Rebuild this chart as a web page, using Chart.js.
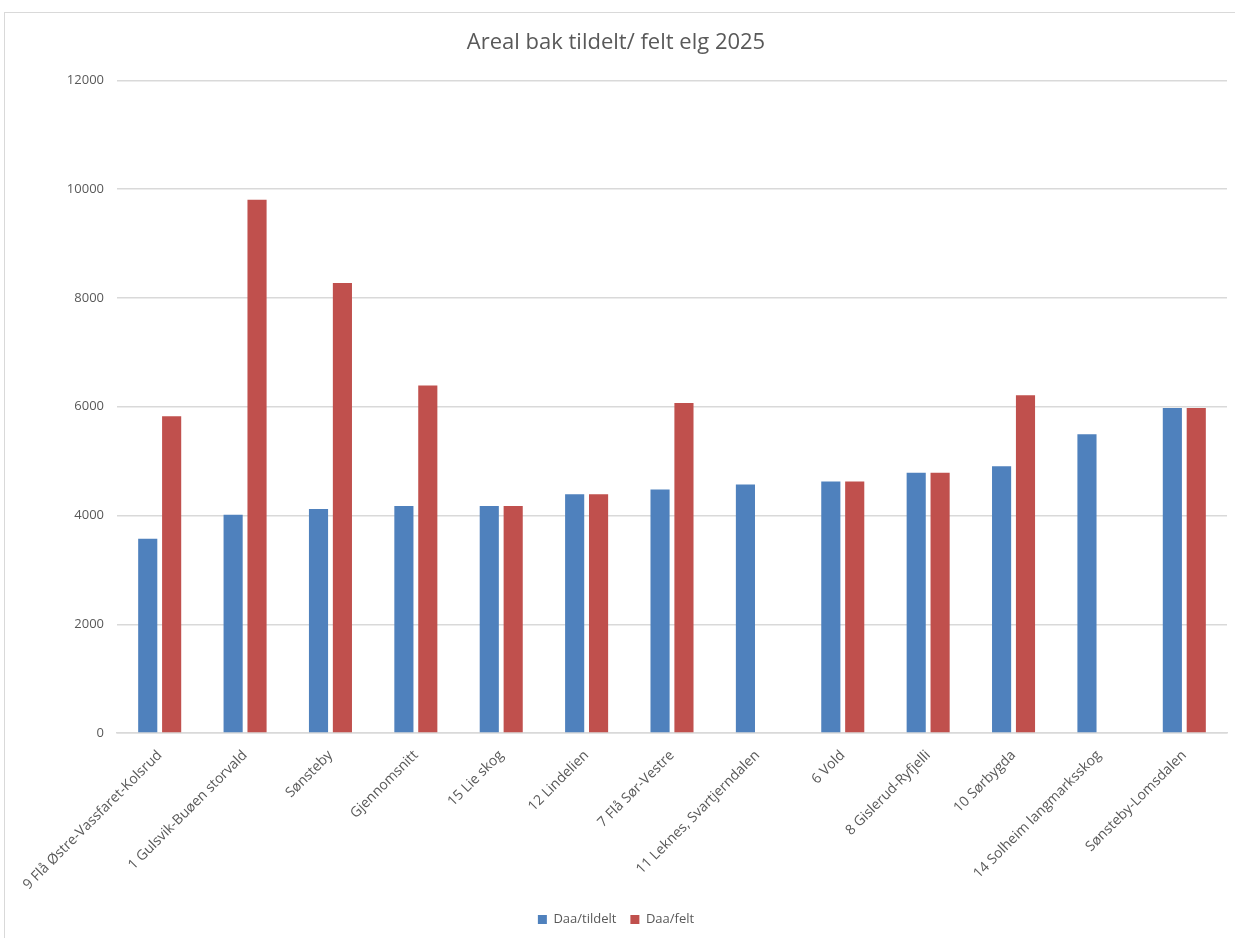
<!DOCTYPE html>
<html>
<head>
<meta charset="utf-8">
<script src="https://cdn.jsdelivr.net/npm/chart.js@4.4.1/dist/chart.umd.min.js"></script>
<style>
  html, body { margin: 0; padding: 0; background: #fff; }
  body { width: 1235px; height: 938px; overflow: hidden; position: relative; }
  #frame { position: absolute; left: 4px; top: 12px; width: 1240px; height: 940px; border-left: 1px solid #d9d9d9; border-top: 1px solid #d9d9d9; box-sizing: border-box; }
  #wrap { position: absolute; left: 5px; top: 13px; width: 1230px; height: 925px; }
</style>
</head>
<body>
<div id="frame"></div>
<div id="wrap"><canvas id="chart"></canvas></div>
<script>
'use strict';

const CATEGORIES = [
    '9 Flå Østre-Vassfaret-Kolsrud', '1 Gulsvik-Buøen storvald', 'Sønsteby', 'Gjennomsnitt',
    '15 Lie skog', '12 Lindelien', '7 Flå Sør-Vestre', '11 Leknes, Svartjerndalen',
    '6 Vold', '8 Gislerud-Ryfjelli', '10 Sørbygda', '14 Solheim langmarksskog', 'Sønsteby-Lomsdalen'
];
const DAA_TILDELT = [3575, 4015, 4120, 4175, 4175, 4390, 4477, 4569, 4624, 4785, 4907, 5492, 5978];
const DAA_FELT = [5824, 9806, 8274, 6391, 4175, 4390, 6070, null, 4624, 4785, 6212, null, 5978];
const Y_TICKS = [0, 2000, 4000, 6000, 8000, 10000, 12000];

const TEXT = '#595959';
const GRID = '#d9d9d9';
const FONT = "'Open Sans', sans-serif";

new Chart(document.getElementById('chart'), {
    type: 'bar',
    data: {
        labels: CATEGORIES,
        datasets: [
            { label: 'Daa/tildelt', data: DAA_TILDELT, backgroundColor: '#4F81BD', borderWidth: 0 },
            { label: 'Daa/felt', data: DAA_FELT, backgroundColor: '#C0504D', borderWidth: 0 }
        ]
    },
    options: {
        responsive: true, maintainAspectRatio: false, animation: false,
        datasets: { bar: { categoryPercentage: 0.56, barPercentage: 0.8 } },
        layout: { padding: { left: 0, right: 8, top: 17, bottom: 2 } },
        plugins: {
            title: {
                display: true, text: 'Areal bak tildelt/ felt elg 2025', color: TEXT,
                font: { family: FONT, size: 22, weight: 'normal' }, padding: { top: 0, bottom: 24 }
            },
            legend: {
                position: 'bottom',
                labels: { color: TEXT, boxWidth: 9, boxHeight: 9, padding: 14, font: { family: FONT, size: 13 } }
            },
            tooltip: { enabled: false }
        },
        scales: {
            x: {
                grid: { display: false },
                border: { color: GRID, width: 1.5 },
                ticks: { color: TEXT, maxRotation: 45, minRotation: 45, autoSkip: false, padding: 6, font: { family: FONT, size: 14 } }
            },
            y: {
                min: 0, max: 12000,
                afterBuildTicks: s => { s.ticks = Y_TICKS.map(v => ({ value: v })); },
                afterFit: s => { s.width = 112; },
                grid: { color: GRID, lineWidth: 1.5, drawTicks: false },
                border: { display: false },
                ticks: { color: TEXT, padding: 13, font: { family: FONT, size: 13 }, callback: v => String(v) }
            }
        }
    }
});
</script>
</body>
</html>
